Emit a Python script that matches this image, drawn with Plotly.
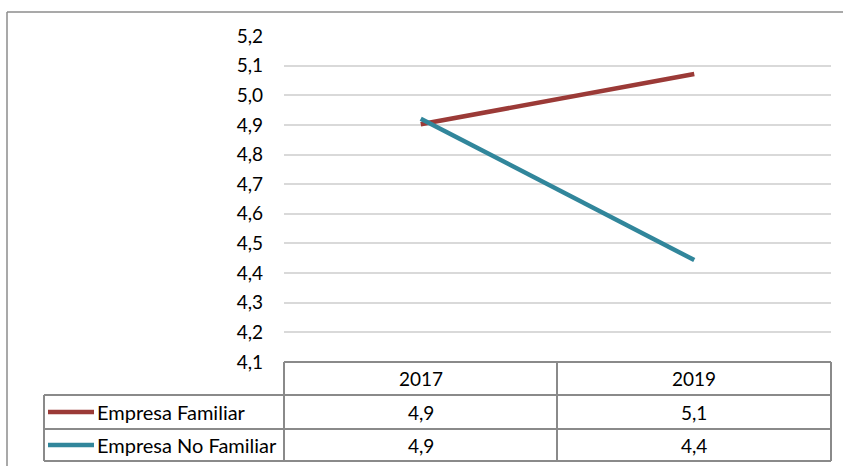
import plotly.graph_objects as go

# Data
years = ["2017", "2019"]
series_names = ["Empresa Familiar", "Empresa No Familiar"]
familiar = [4.902, 5.072]
no_familiar = [4.921, 4.444]
y_ticks = [4.1, 4.2, 4.3, 4.4, 4.5, 4.6, 4.7, 4.8, 4.9, 5.0, 5.1, 5.2]

colors = ["#9B3A37", "#31869B"]
W, H = 843, 466
FONT = "Lato"
GRID = "#D9D9D9"
TABLE_LINE = "#8A8A8A"


def px_x(v):
    return v / W


def px_y(v):
    return 1 - v / H


# plot area in pixels
PL, PR, PT, PB = 284, 831, 36, 362

fig = go.Figure()
xs = list(range(len(years)))
for name, vals, col in zip(series_names, [familiar, no_familiar], colors):
    fig.add_trace(go.Scatter(x=xs, y=vals, mode="lines", name=name,
                             line=dict(color=col, width=4.5),
                             showlegend=False, hoverinfo="skip"))

shapes = []


def hline(x0, x1, y, color=TABLE_LINE, w=2):
    shapes.append(dict(type="line", xref="paper", yref="paper",
                       x0=px_x(x0), x1=px_x(x1), y0=px_y(y), y1=px_y(y),
                       line=dict(color=color, width=w)))


def vline(x, y0, y1, color=TABLE_LINE, w=2):
    shapes.append(dict(type="line", xref="paper", yref="paper",
                       x0=px_x(x), x1=px_x(x), y0=px_y(y0), y1=px_y(y1),
                       line=dict(color=color, width=w)))


# outer chart frame
hline(7, W + 5, 12, color="#8C8C8C", w=1.5)
vline(7, 12, H + 5, color="#8C8C8C", w=1.5)

# data table grid
ROW_TOP, ROW1, ROW2, ROW_BOT = 362, 395, 429, 461
TL, TM = 44, 557
hline(PL, PR, ROW_TOP)
hline(TL, PR, ROW1)
hline(TL, PR, ROW2)
hline(TL, PR, ROW_BOT)
vline(PL, ROW_TOP, ROW_BOT)
vline(TM, ROW_TOP, ROW_BOT)
vline(PR, ROW_TOP, ROW_BOT)
vline(TL, ROW1, ROW_BOT)

annotations = []
row_centers = [(ROW_TOP + ROW1) / 2, (ROW1 + ROW2) / 2, (ROW2 + ROW_BOT) / 2]
tfont = dict(family=FONT, size=19, color="#000000")
lfont = dict(family=FONT, size=20, color="#000000")

for i, yr in enumerate(years):
    annotations.append(dict(x=i, xref="x", y=px_y(row_centers[0]), yref="paper",
                            text=yr, showarrow=False, font=tfont,
                            xanchor="center", yanchor="middle"))

for r, (name, vals, col) in enumerate(zip(series_names, [familiar, no_familiar], colors)):
    cy = row_centers[r + 1]
    shapes.append(dict(type="line", xref="paper", yref="paper",
                       x0=px_x(48), x1=px_x(94), y0=px_y(cy), y1=px_y(cy),
                       line=dict(color=col, width=4.5)))
    annotations.append(dict(x=px_x(95), xref="paper", y=px_y(cy), yref="paper",
                            text=name, showarrow=False, font=lfont,
                            xanchor="left", yanchor="middle"))
    for i, v in enumerate(vals):
        annotations.append(dict(x=i, xref="x", y=px_y(cy), yref="paper",
                                text=f"{v:.1f}".replace(".", ","), showarrow=False,
                                font=tfont, xanchor="center", yanchor="middle"))

fig.update_layout(
    width=W, height=H,
    margin=dict(l=0, r=0, t=0, b=0, autoexpand=False),
    paper_bgcolor="white", plot_bgcolor="white",
    separators=",.",
    shapes=shapes,
    annotations=annotations,
    xaxis=dict(domain=[px_x(PL), px_x(PR)], range=[-0.5, len(years) - 0.5],
               showgrid=False, zeroline=False, showticklabels=False,
               showline=False, fixedrange=True, automargin=False),
    yaxis=dict(domain=[px_y(PB), px_y(PT)], range=[4.1, 5.2],
               tickvals=y_ticks, tickformat=".1f",
               showgrid=True, gridcolor=GRID, gridwidth=1.5,
               zeroline=False, showline=False,
               ticklabelstandoff=20, automargin=False,
               tickfont=dict(family=FONT, size=19, color="#000000"),
               fixedrange=True),
)

fig.write_html("out.html")
